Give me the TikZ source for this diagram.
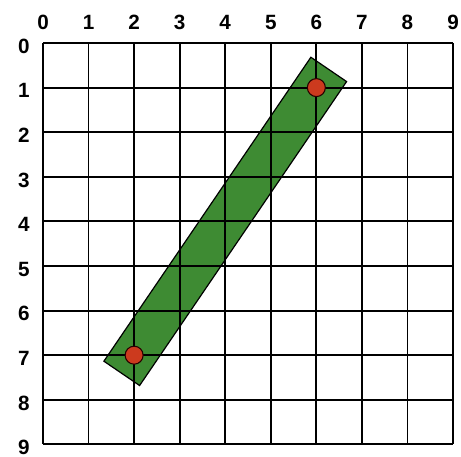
\documentclass[tikz,border=0pt]{standalone}
\usepackage{fontspec}
\setmainfont{Liberation Sans}
\usetikzlibrary{calc}
\definecolor{bargreen}{RGB}{62,139,51}
\definecolor{dotred}{RGB}{204,58,30}
\tikzset{
  gridlabel/.style={font=\bfseries\fontsize{15.5}{17}\selectfont, inner sep=0pt},
  dot/.style={circle, draw=black!85!red, fill=dotred, line width=0.8pt,
    minimum size=13.5pt, inner sep=0pt}
}
\begin{document}
\begin{tikzpicture}[x=34.17pt, y=-33.45pt]
    \useasboundingbox (-0.944,-0.964) rectangle (9.175,9.283);
    \coordinate (s) at (2,7);
    \coordinate (e) at (6,1);
    % the bar around the segment
    \draw [fill=bargreen, line width=0.9pt]
        ($(s)!-16.5pt!(e)!16.2pt!90:(e)$) --
        ($(s)!-16.5pt!(e)!16.2pt!-90:(e)$) --
        ($(e)!-16.5pt!(s)!16.2pt!90:(s)$) --
        ($(e)!-16.5pt!(s)!16.2pt!-90:(s)$) -- cycle;
    \foreach \i in {0,...,9} {
        \draw [line width=1.4pt] (\i,0) -- (\i,9);
        \draw [line width=1.4pt] (0,\i) -- (9,\i);
        \node [gridlabel] (col\i) at (\i,-0.47) {\i};
        \node [gridlabel] (row\i) at (-0.42,\i+0.07) {\i};
    }
    \node [dot] (start) at (s) {};
    \node [dot] (end) at (e) {};
\end{tikzpicture}
\end{document}
